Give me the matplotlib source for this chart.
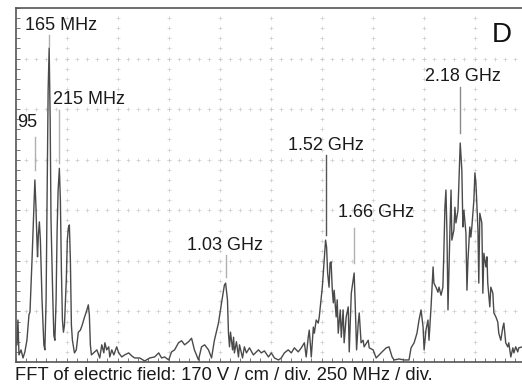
import numpy as np
import matplotlib
matplotlib.use('Agg')
import matplotlib.pyplot as plt

plt.rcParams['font.family'] = ['Liberation Sans', 'DejaVu Sans']

# FFT trace: frequency (MHz) and amplitude (divisions, 170 V/cm per div)
freq = [7, 12, 17, 27, 37, 46, 56, 66, 71, 81, 88, 95, 100, 105, 108, 112, 117, 122,
        130, 139, 144, 150, 155, 160, 165, 170, 174, 183, 188, 193, 199, 204, 209, 215,
        220, 225, 230, 235, 240, 249, 254, 259, 264, 269, 274, 279, 289, 298, 308, 318,
        327, 337, 347, 357, 362, 367, 372,
        399, 413, 423, 433, 438, 447, 457, 462, 472, 482, 496, 506, 521, 535, 555, 570,
        584, 609, 633, 658, 682, 702, 716, 731, 751, 765, 780, 799, 814, 829, 848, 863,
        877, 897, 912, 927, 946, 961,
        975, 995, 1010, 1024, 1030, 1039, 1044, 1049, 1054, 1064, 1069, 1073, 1083, 1093,
        1098, 1113, 1122, 1132, 1147, 1166, 1191, 1205, 1220, 1240, 1254, 1269, 1289,
        1303, 1318, 1337, 1352, 1367, 1386, 1401, 1416, 1425, 1435, 1440, 1450, 1460,
        1465, 1474, 1484, 1489, 1504, 1520, 1525, 1530, 1537, 1542, 1547, 1553, 1558,
        1562, 1572, 1577, 1582, 1592, 1597, 1606, 1611, 1621, 1631, 1636, 1646, 1660,
        1665, 1672, 1680, 1685, 1694, 1704, 1709, 1729, 1734, 1753, 1768, 1792, 1817,
        1831, 1846, 1856, 1880, 1905, 1929,
        1939, 1954, 1968, 1978, 1988, 1998, 2003, 2012, 2022, 2027, 2037, 2047, 2051,
        2061, 2071, 2076, 2086, 2095, 2100, 2105, 2110, 2115, 2120, 2130, 2135, 2139,
        2149, 2154, 2159, 2169, 2174, 2180, 2188, 2193, 2198, 2208, 2213, 2218, 2227,
        2232, 2237, 2247, 2252, 2257, 2267, 2271, 2276, 2286, 2291, 2296, 2306, 2311,
        2315, 2325, 2330, 2340, 2345, 2355, 2364, 2369, 2379, 2389, 2394, 2403, 2413,
        2418, 2428, 2438, 2443, 2452, 2462, 2467, 2487, 2500]
amp = [0.34, 0.83, 0.14, 0.24, 0.08, 0.20, 0.43, 0.93, 0.99, 2.02, 2.81, 3.60, 3.10, 2.41,
       2.08, 2.51, 2.77, 2.41, 1.23, 0.34, 0.24, 1.23, 3.20, 5.38, 6.21, 4.78, 2.81, 1.23,
       0.53, 0.43, 1.23, 2.61, 3.40, 3.83, 3.20, 1.82, 0.83, 0.59, 0.73, 1.62, 2.41, 2.65,
       2.71, 2.02, 0.73, 0.43, 0.18, 0.24, 0.59, 0.63, 0.73, 0.87, 0.99, 1.13, 0.93, 0.34,
       0.14,
       0.24, 0.08, 0.34, 0.18, 0.38, 0.24, 0.30, 0.10, 0.24, 0.14, 0.30, 0.18, 0.10, 0.14,
       0.18, 0.12, 0.08, 0.08, 0.02, 0.08, 0.10, 0.18, 0.08, 0.10, 0.04, 0.20, 0.24, 0.38,
       0.42, 0.34, 0.40, 0.47, 0.24, 0.04, 0.30, 0.34, 0.24, 0.08,
       0.43, 0.77, 1.17, 1.52, 1.56, 1.23, 0.57, 0.30, 0.59, 0.24, 0.49, 0.18, 0.40, 0.10,
       0.34, 0.08, 0.30, 0.18, 0.28, 0.14, 0.24, 0.18, 0.22, 0.10, 0.18, 0.08, 0.04,
       0.08, 0.18, 0.24, 0.18, 0.28, 0.20, 0.28, 0.38, 0.10, 0.49, 0.63, 0.10, 0.69,
       0.57, 0.83, 0.77, 0.89, 1.48, 2.41, 2.27, 1.76, 1.48, 1.96, 1.98, 1.42, 1.17,
       1.42, 0.89, 1.23, 0.57, 1.03, 0.49, 1.03, 0.38, 0.89, 1.09, 0.20, 1.36, 1.76,
       1.17, 0.24, 0.77, 0.97, 0.38, 0.43, 0.30, 0.43, 0.28, 0.24, 0.08, 0.18, 0.28,
       0.30, 0.10, 0.04, 0.06, 0.04, 0.04,
       0.28, 0.38, 0.57, 0.83, 1.03, 0.69, 0.24, 0.63, 0.83, 0.43, 1.09, 1.88, 1.56,
       1.48, 1.38, 1.48, 1.32, 1.48, 2.21, 3.06, 3.40, 2.55, 1.03, 2.67, 3.40, 2.41,
       2.61, 3.06, 2.75, 3.00, 3.60, 4.33, 3.79, 2.67, 3.00, 2.55, 1.42, 2.02, 2.67,
       2.47, 2.67, 3.20, 3.74, 3.54, 2.61, 1.56, 2.94, 2.75, 1.36, 2.15, 1.88, 2.08,
       1.56, 1.09, 1.48, 1.36, 0.97, 0.89, 0.79, 0.57, 0.43, 0.69, 0.77, 0.38, 0.30,
       0.38, 0.10, 0.28, 0.18, 0.30, 0.20, 0.28, 0.30, 0.34]

# marked peaks
peak_labels = ['95', '165 MHz', '215 MHz', '1.03 GHz', '1.52 GHz', '1.66 GHz', '2.18 GHz']
peak_freqs = [95, 165, 215, 1030, 1520, 1660, 2180]

# label placement (text left x in MHz, text y in div) and pointer line extent (div)
label_x = [7, 47, 184, 841, 1336, 1581, 2007]
label_y = [4.74, 6.66, 5.20, 2.31, 4.29, 2.96, 5.65]
line_top = [4.45, 6.46, 4.98, 2.11, 4.09, 2.65, 5.43]
line_bot = [3.79, 6.25, 3.93, 1.68, 2.51, 1.96, 4.53]
line_col = ['#b0b0b0', '#b0b0b0', '#b0b0b0', '#b0b0b0', '#555555', '#b0b0b0', '#8a8a8a']

fig = plt.figure(figsize=(5.22, 3.87), dpi=100)
ax = fig.add_axes([15.5 / 522, 25 / 387, 510 / 522, 354 / 387])
ax.set_xlim(0, 2500)
ax.set_ylim(0, 7)

# scope graticule: dotted lines with small crosses every 1/5 division
gcol = '#cdcdcd'
for gx in np.arange(250, 2500, 250):
    ys = np.arange(0.2, 7.0, 0.2)
    ax.plot(np.full_like(ys, gx), ys, ls='none', marker='+', ms=2.5, mew=0.5, color=gcol, zorder=1)
for gy in np.arange(1, 7, 1):
    xs = np.arange(50, 2500, 50)
    ax.plot(xs, np.full_like(xs, gy, dtype=float), ls='none', marker='+', ms=2.5, mew=0.5,
            color=gcol, zorder=1)

ax.plot(freq, amp, color='#4a4a4a', lw=1.0, zorder=3)

for lab, f, tx, ty, t, b, c in zip(peak_labels, peak_freqs, label_x, label_y,
                                   line_top, line_bot, line_col):
    ax.plot([f, f], [b, t], color=c, lw=1.0, zorder=2)
    ax.text(tx, ty, lab, fontsize=13, color='#1a1a1a', ha='left', va='center')

for side in ['left', 'bottom', 'top']:
    ax.spines[side].set_color('#555555')
    ax.spines[side].set_linewidth(1.2)
ax.spines['right'].set_visible(False)

ax.set_xticks(np.arange(0, 2501, 250))
ax.set_xticks(np.arange(0, 2501, 50), minor=True)
ax.set_yticks(np.arange(0, 7.01, 1))
ax.set_yticks(np.arange(0, 7.01, 0.2), minor=True)
ax.tick_params(which='both', direction='in', length=3, width=0.7, color='#777777',
               labelbottom=False, labelleft=False)

fig.text(512 / 522, 1 - 35 / 387, 'D', fontsize=20, ha='right', va='center', color='#111111')
fig.text(15 / 522, 1 - 375 / 387, 'FFT of electric field: 170 V / cm / div. 250 MHz / div.',
         fontsize=13.2, ha='left', va='center', color='#1a1a1a')

fig.savefig('out.png', dpi=100)
